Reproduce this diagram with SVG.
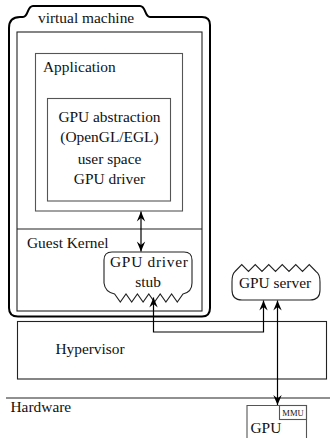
<svg xmlns="http://www.w3.org/2000/svg" width="330" height="438" viewBox="0 0 330 438" font-family="'Liberation Serif', 'Times New Roman', serif">
  <style>
    text { font-family: 'Liberation Serif', 'Times New Roman', serif; font-size: 15.4px; fill: #111; }
    .c { text-anchor: middle; }
    .box { fill: none; stroke: #222; stroke-width: 1.1; }
    .grey { fill: none; stroke: #555; stroke-width: 1.1; }
    .thick { fill: none; stroke: #000; stroke-width: 2; }
    .wire { fill: none; stroke: #000; stroke-width: 1.2; }
  </style>
  <defs>
    <marker id="ah" viewBox="-11 -5 12 10" refX="0" refY="0" markerWidth="12" markerHeight="10" markerUnits="userSpaceOnUse" orient="auto-start-reverse">
      <path d="M0,0 L-10,-4.2 L-6.5,0 L-10,4.2 Z" fill="#000"/>
    </marker>
  </defs>

  <!-- virtual machine container with title tab -->
  <g id="vm">
    <path class="thick" d="M9,28 Q9,17 20,17 L23,17 C28.5,17 27,6 33,6 L140,6 C146,6 144.5,17 150,17 L202,17 Q210,17 210,25 L210,308 Q210,316.5 202,316.5 L18,316.5 Q9,316.5 9,308 Z"/>
    <text x="38" y="23">virtual machine</text>
    <rect class="box" x="17" y="32" width="185" height="279"/>
    <line class="box" x1="17" y1="229" x2="202" y2="229"/>
    <text x="27" y="248">Guest Kernel</text>
  </g>

  <g id="application">
    <rect class="grey" x="35.5" y="53.5" width="147" height="157.5"/>
    <text x="43" y="72">Application</text>
  </g>

  <g id="gpu-abstraction">
    <rect class="grey" x="47.5" y="98.5" width="123" height="102.5"/>
    <text class="c" x="109.5" y="122">GPU abstraction</text>
    <text class="c" x="109.5" y="142">(OpenGL/EGL)</text>
    <text class="c" x="109.5" y="164">user space</text>
    <text class="c" x="109.5" y="184">GPU driver</text>
  </g>

  <!-- driver stub: rounded top, jagged bottom -->
  <g id="driver-stub">
    <path class="box" d="M104,283 L104,260 Q104,252 112,252 L184,252 Q192,252 192,260 L192,283 Q192,292 183,294 L177.3,302 L171.6,294 L165.9,302 L160.2,294 L154.5,302 L148.8,294 L143.1,302 L137.4,294 L131.7,302 L126,294 L120.3,302 L114.6,294 Q105,292 104,283 Z"/>
    <text class="c" x="149" y="267" textLength="78" lengthAdjust="spacing">GPU driver</text>
    <text class="c" x="148" y="287">stub</text>
  </g>

  <!-- GPU server: jagged top, rounded bottom -->
  <g id="gpu-server">
    <path class="box" d="M235,271.5 L241.75,264.5 L248.5,271.5 L255.25,264.5 L262,271.5 L268.75,264.5 L275.5,271.5 L282.25,264.5 L289,271.5 L295.75,264.5 L302.5,271.5 L309.25,264.5 L316,271.5 Q320,274 320,282 L320,290 Q320,300 310,300 L242,300 Q232,300 232,290 L232,282 Q232,274 235,271.5 Z"/>
    <text class="c" x="275" y="288">GPU server</text>
  </g>

  <g id="hypervisor">
    <rect class="box" x="17.5" y="321.5" width="309" height="57.5"/>
    <text class="c" x="90" y="354">Hypervisor</text>
  </g>

  <g id="hardware">
    <line class="box" x1="6" y1="398" x2="330" y2="398"/>
    <text x="10.5" y="412">Hardware</text>
  </g>

  <g id="gpu">
    <path class="grey" d="M247,440 L247,405.5 L306.5,405.5 L306.5,440"/>
    <rect class="grey" x="279.5" y="405.5" width="27" height="14"/>
    <text x="293" y="416" class="c" style="font-size:8.5px">MMU</text>
    <text x="250.5" y="433">GPU</text>
  </g>

  <g id="connectors">
    <line class="wire" x1="141" y1="211.5" x2="141" y2="251.5" marker-start="url(#ah)" marker-end="url(#ah)"/>
    <path class="wire" d="M153.5,297.5 L153.5,332 L263.5,332 L263.5,300.5" marker-start="url(#ah)" marker-end="url(#ah)"/>
    <line class="wire" x1="277.5" y1="300.5" x2="277.5" y2="405" marker-start="url(#ah)" marker-end="url(#ah)"/>
  </g>
</svg>
